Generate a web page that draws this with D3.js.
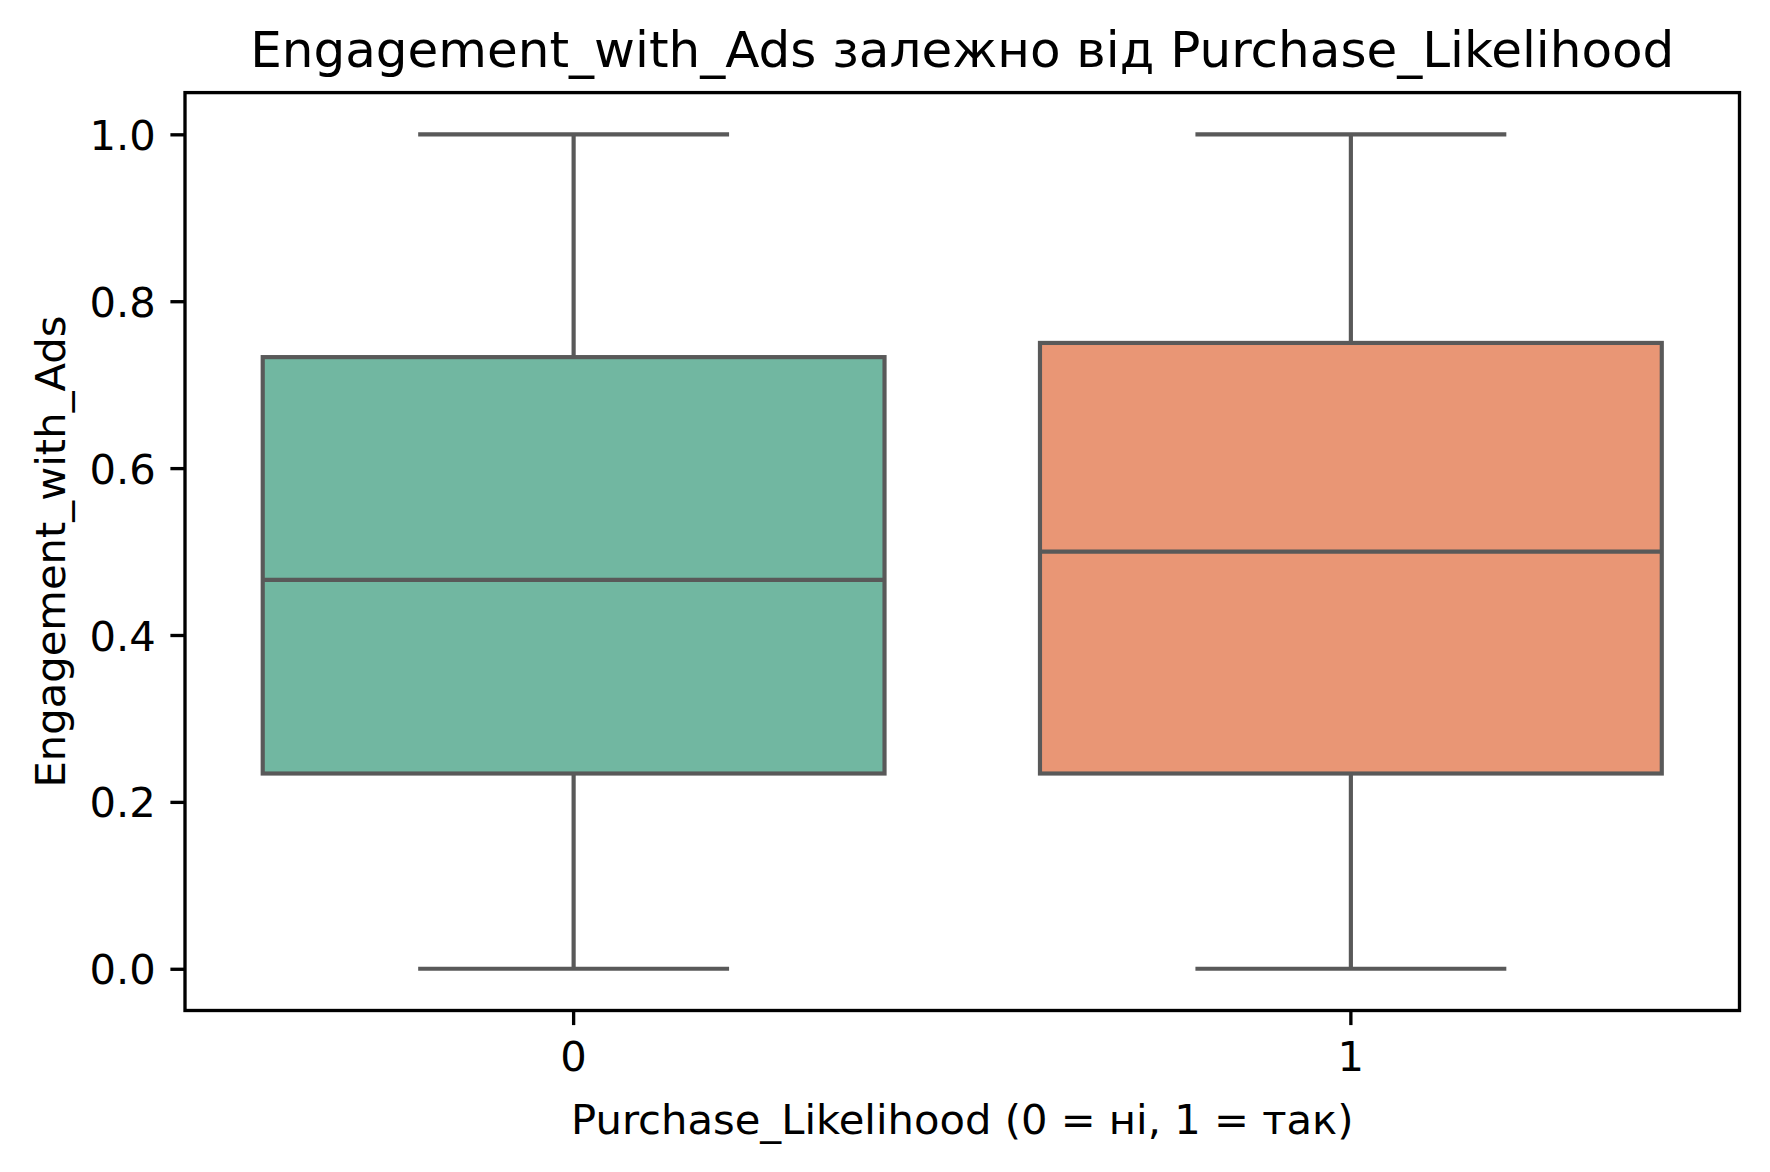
<!DOCTYPE html>
<html>
<head>
<meta charset="utf-8">
<script src="https://cdn.jsdelivr.net/npm/d3@7"></script>
<style>
  html, body { margin: 0; padding: 0; background: #ffffff; }
  svg { display: block; }
  text { font-family: "DejaVu Sans", sans-serif; fill: #000; }
</style>
</head>
<body>
<svg id="chart" width="1770" height="1172"></svg>
<script>
// ---- data ----
const categories = ["0", "1"];
const whiskerLow  = [0.0, 0.0];
const q1Values    = [0.234, 0.234];
const medianValues= [0.466, 0.500];
const q3Values    = [0.733, 0.750];
const whiskerHigh = [1.0, 1.0];
const boxColors   = ["#71b7a1", "#e99675"];
const yTicks      = [0.0, 0.2, 0.4, 0.6, 0.8, 1.0];
const titleText   = "Engagement_with_Ads залежно від Purchase_Likelihood";
const xLabelText  = "Purchase_Likelihood (0 = ні, 1 = так)";
const yLabelText  = "Engagement_with_Ads";

// ---- layout ----
const plotLeft = 185, plotRight = 1739.5, plotTop = 92.6, plotBottom = 1010.5;
const svg = d3.select("#chart");
const lineColor = "#595959";
const lw = 4.17;
const tickLen = 14.6, tickPad = 14.6;

const x = d3.scaleBand().domain(categories).range([plotLeft, plotRight])
  .paddingInner(0.2).paddingOuter(0.1);
const y = d3.scaleLinear().domain([-0.05, 1.05]).range([plotBottom, plotTop]);

const boxes = categories.map((c, i) => ({
  c, lo: whiskerLow[i], q1: q1Values[i], med: medianValues[i],
  q3: q3Values[i], hi: whiskerHigh[i], color: boxColors[i]
}));

const g = svg.append("g");
const bw = x.bandwidth();
const capW = bw / 2;

const bx = g.selectAll("g.box").data(boxes).join("g").attr("class", "box");
// whiskers
bx.append("line")
  .attr("x1", d => x(d.c) + bw / 2).attr("x2", d => x(d.c) + bw / 2)
  .attr("y1", d => y(d.q3)).attr("y2", d => y(d.hi))
  .attr("stroke", lineColor).attr("stroke-width", lw);
bx.append("line")
  .attr("x1", d => x(d.c) + bw / 2).attr("x2", d => x(d.c) + bw / 2)
  .attr("y1", d => y(d.q1)).attr("y2", d => y(d.lo))
  .attr("stroke", lineColor).attr("stroke-width", lw);
// caps
bx.append("line")
  .attr("x1", d => x(d.c) + bw / 2 - capW / 2).attr("x2", d => x(d.c) + bw / 2 + capW / 2)
  .attr("y1", d => y(d.hi)).attr("y2", d => y(d.hi))
  .attr("stroke", lineColor).attr("stroke-width", lw);
bx.append("line")
  .attr("x1", d => x(d.c) + bw / 2 - capW / 2).attr("x2", d => x(d.c) + bw / 2 + capW / 2)
  .attr("y1", d => y(d.lo)).attr("y2", d => y(d.lo))
  .attr("stroke", lineColor).attr("stroke-width", lw);
// box
bx.append("rect")
  .attr("x", d => x(d.c)).attr("width", bw)
  .attr("y", d => y(d.q3)).attr("height", d => y(d.q1) - y(d.q3))
  .attr("fill", d => d.color).attr("stroke", lineColor).attr("stroke-width", lw);
// median
bx.append("line")
  .attr("x1", d => x(d.c)).attr("x2", d => x(d.c) + bw)
  .attr("y1", d => y(d.med)).attr("y2", d => y(d.med))
  .attr("stroke", lineColor).attr("stroke-width", lw);

// ---- axes ----
const yAxis = d3.axisLeft(y).tickValues(yTicks).tickFormat(d3.format(".1f"))
  .tickSize(tickLen).tickPadding(tickPad);
const ya = svg.append("g").attr("transform", `translate(${plotLeft},0)`).call(yAxis);
ya.select(".domain").remove();
ya.selectAll(".tick line").attr("stroke", "#000").attr("stroke-width", 3.33);
ya.selectAll(".tick text").attr("font-size", 41.7).attr("dy", "0.36em")
  .attr("font-family", "DejaVu Sans").attr("fill", "#000");

const xAxis = d3.axisBottom(x).tickSize(tickLen).tickPadding(tickPad);
const xa = svg.append("g").attr("transform", `translate(0,${plotBottom})`).call(xAxis);
xa.select(".domain").remove();
xa.selectAll(".tick line").attr("stroke", "#000").attr("stroke-width", 3.33);
xa.selectAll(".tick text").attr("font-size", 41.7).attr("dy", "0.76em")
  .attr("font-family", "DejaVu Sans").attr("fill", "#000");

// spines
svg.append("rect")
  .attr("x", plotLeft).attr("y", plotTop)
  .attr("width", plotRight - plotLeft).attr("height", plotBottom - plotTop)
  .attr("fill", "none").attr("stroke", "#000").attr("stroke-width", 3.33);

// ---- labels ----
svg.append("text").attr("x", (plotLeft + plotRight) / 2).attr("y", 67)
  .attr("text-anchor", "middle").attr("font-size", 50).text(titleText);
svg.append("text").attr("x", (plotLeft + plotRight) / 2).attr("y", 1134)
  .attr("text-anchor", "middle").attr("font-size", 41.7).text(xLabelText);
svg.append("text")
  .attr("transform", `translate(65,${(plotTop + plotBottom) / 2}) rotate(-90)`)
  .attr("text-anchor", "middle").attr("font-size", 41.7).text(yLabelText);
</script>
</body>
</html>
